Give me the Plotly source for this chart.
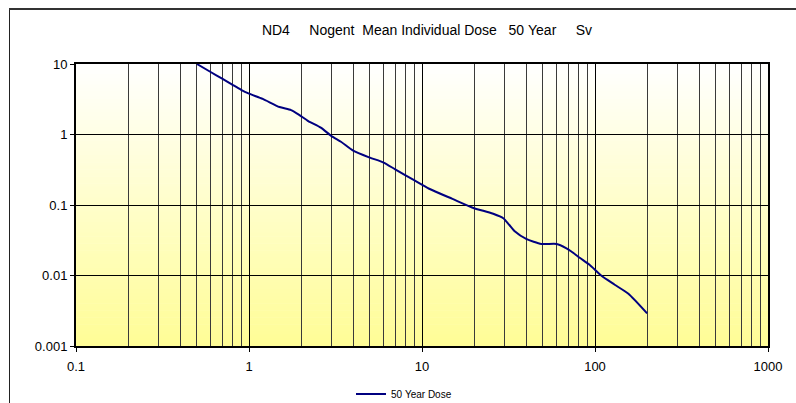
import plotly.graph_objects as go

# Data
distance_km = [0.5, 0.6, 0.7, 0.8, 0.9, 1.0, 1.2, 1.5, 1.75, 1.95, 2.2, 2.6, 3.0, 3.4,
               4.0, 5.0, 6.0, 7.0, 9.0, 11, 15, 20, 22.6, 25.8, 29.5, 32, 34.5, 40,
               49, 60, 68, 73, 82, 93, 109, 130, 156, 200]
dose_sv = [10, 7.7, 6.2, 5.1, 4.3, 3.8, 3.2, 2.45, 2.22, 1.9, 1.55, 1.25, 0.95, 0.79,
           0.59, 0.47, 0.40, 0.32, 0.225, 0.17, 0.122, 0.09, 0.083, 0.075, 0.065, 0.052,
           0.042, 0.033, 0.028, 0.028, 0.0245, 0.0219, 0.0177, 0.0142, 0.0099, 0.0074,
           0.0055, 0.0029]
series_name = "50\u00a0Year\u00a0Dose"
nb = "\u00a0"
title_text = ("ND4" + nb * 5 + "Nogent" + nb * 2 + "Mean" + nb + "Individual" + nb +
              "Dose" + nb * 3 + "50" + nb + "Year" + nb * 5 + "Sv")

x_ticks = [0.1, 1, 10, 100, 1000]
x_ticktext = ["0.1", "1", "10", "100", "1000"]
y_ticks = [0.001, 0.01, 0.1, 1, 10]
y_ticktext = ["0.001", "0.01", "0.1", "1", "10"]
x_minor = [m * d for d in [0.1, 1, 10, 100] for m in range(2, 10)]

W, H = 796, 403
L, R, T, B = 76, 28, 64, 57
pw, ph = W - L - R, H - T - B

fig = go.Figure()
fig.add_trace(go.Scatter(
    x=distance_km, y=dose_sv, mode="lines", name=series_name,
    line=dict(color="#000080", width=2, shape="spline", smoothing=0.6),
))

# vertical gradient background (white -> pale yellow)
shapes = []
n = 80
top = (255, 255, 255)
bot = (255, 253, 150)
for i in range(n):
    f = (i + 0.5) / n  # 0 at top, 1 at bottom
    c = tuple(round(top[k] + (bot[k] - top[k]) * f) for k in range(3))
    shapes.append(dict(
        type="rect", xref="x domain", yref="y domain",
        x0=0, x1=1, y0=1 - (i + 1) / n, y1=1 - i / n + 0.002,
        fillcolor="rgb(%d,%d,%d)" % c, line=dict(width=0), layer="below",
    ))


def px_to_paper_x(px):
    return (px - L) / pw


def px_to_paper_y(py):
    return (H - B - py) / ph


# outer chart frame (left and top edges visible)
shapes.append(dict(type="rect", xref="paper", yref="paper",
                   x0=px_to_paper_x(9), x1=px_to_paper_x(10),
                   y0=px_to_paper_y(420), y1=px_to_paper_y(8),
                   fillcolor="#222222", line=dict(width=0), layer="above"))
shapes.append(dict(type="rect", xref="paper", yref="paper",
                   x0=px_to_paper_x(9), x1=px_to_paper_x(800),
                   y0=px_to_paper_y(10), y1=px_to_paper_y(8),
                   fillcolor="#333333", line=dict(width=0), layer="above"))

font_family = "Liberation Sans, Arial, sans-serif"
fig.update_layout(
    width=W, height=H, autosize=False,
    margin=dict(l=L, r=R, t=T, b=B),
    paper_bgcolor="white", plot_bgcolor="white",
    font=dict(family=font_family, color="#000000", size=13),
    title=dict(text=title_text, x=427 / W, xanchor="center", xref="container",
               y=1 - 30 / H, yanchor="middle", yref="container",
               font=dict(size=14, family=font_family)),
    shapes=shapes,
    showlegend=True,
    legend=dict(orientation="h", xref="container", yref="container",
                x=404 / W, xanchor="center", y=1 - 394 / H,
                yanchor="middle", font=dict(size=10), bgcolor="rgba(0,0,0,0)"),
    xaxis=dict(type="log", range=[-1, 3], tickvals=x_ticks, ticktext=x_ticktext,
               showgrid=True, gridcolor="#000000", gridwidth=1,
               minor=dict(tickvals=x_minor, showgrid=True, gridcolor="#3a3a3a", gridwidth=1.4),
               showline=True, linecolor="#000000", linewidth=2, mirror=True,
               ticks="outside", ticklen=4, tickcolor="#000000", zeroline=False,
               tickfont=dict(size=13), automargin=False, ticklabelstandoff=3),
    yaxis=dict(type="log", range=[-3, 1], tickvals=y_ticks, ticktext=y_ticktext,
               showgrid=True, gridcolor="#000000", gridwidth=1,
               showline=True, linecolor="#000000", linewidth=2, mirror=True,
               ticks="outside", ticklen=4, tickcolor="#000000", zeroline=False,
               tickfont=dict(size=13), automargin=False),
)

post = ("document.body.style.margin='0px';document.body.style.overflow='hidden';"
        "var fr=document.createElement('div');"
        "fr.style.cssText='position:absolute;left:9px;top:8px;width:790px;height:1px;"
        "background:#333;pointer-events:none;z-index:10;';"
        "document.body.appendChild(fr);")
fig.write_html("out.html", config={"displayModeBar": False}, post_script=post)
